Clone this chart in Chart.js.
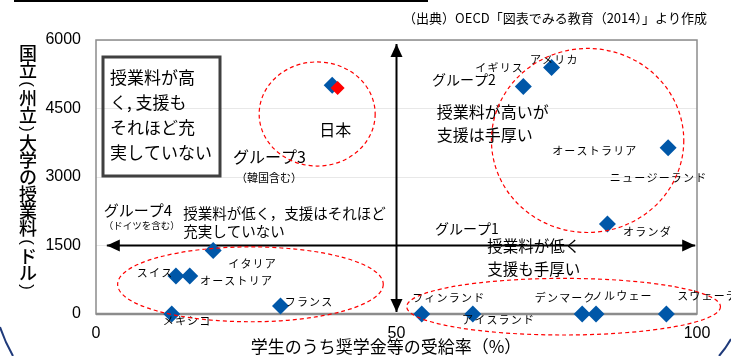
<!DOCTYPE html>
<html lang="ja">
<head>
<meta charset="utf-8">
<script src="https://cdn.jsdelivr.net/npm/chart.js@4/dist/chart.umd.min.js"></script>
<style>
  html, body { margin: 0; padding: 0; background: #fff; }
  #wrap { width: 731px; height: 356px; position: relative; }
</style>
</head>
<body>
<div id="wrap"><canvas id="chart"></canvas></div>
<script>
// --- data ---
const countries = ['日本', 'アメリカ', 'イギリス', 'オーストラリア', 'オランダ', 'イタリア', 'スイス',
    'オーストリア', 'フランス', 'メキシコ', 'フィンランド', 'アイスランド', 'デンマーク', 'ノルウェー', 'スウェーデン'];
const aidRate = [39.3, 75.8, 71.1, 95.2, 85.1, 19.5, 13.3, 15.6, 30.7, 12.6, 54.2, 62.7, 80.9, 83.2, 94.9];
const tuition = [5010, 5400, 4980, 3640, 1970, 1390, 830, 830, 175, 0, 0, 0, 0, 0, 0];
const japanAidRate = [40.2];
const japanTuition = [4950];
const xTickValues = [0, 50, 100];
const yTickValues = [0, 1500, 3000, 4500, 6000];

const JP = '"Noto Sans CJK JP", "Noto Sans", sans-serif';
const NUM = '"Liberation Sans", Arial, sans-serif';

// label placement for each country, in data units (left edge, middle)
const countryLabels = {
    'イギリス': [63.1, 5390], 'アメリカ': [72.2, 5560], 'オーストラリア': [75.9, 3570],
    'ニュージーランド': [85.5, 2980], 'オランダ': [87.7, 1800], 'イタリア': [22.0, 1095],
    'スイス': [6.8, 900], 'オーストリア': [17.3, 720], 'フランス': [31.4, 263],
    'メキシコ': [11.1, -150], 'フィンランド': [52.6, 350], 'アイスランド': [60.9, -130],
    'デンマーク': [73.0, 350], 'ノルウェー': [82.5, 395], 'スウェーデン': [96.7, 395]
};

// group notes: [text, x, y, size, align]
const notes = [
    ['グループ2', 55.9, 5125, 14, 'left'],
    ['授業料が高いが', 56.7, 4420, 16, 'left'],
    ['支援は手厚い', 56.7, 3920, 16, 'left'],
    ['日本', 39.8, 4030, 16, 'center'],
    ['グループ3', 22.8, 3440, 16, 'left'],
    ['（韓国含む）', 23.3, 2980, 11, 'left'],
    ['グループ4', 1.3, 2260, 15, 'left'],
    ['（ドイツを含む）', 1.3, 1930, 9.5, 'left'],
    ['授業料が低く，支援はそれほど', 14.5, 2210, 14.5, 'left'],
    ['充実していない', 14.5, 1800, 14.5, 'left'],
    ['グループ1', 56.4, 1860, 14, 'left'],
    ['授業料が低く', 65.1, 1490, 15.5, 'left'],
    ['支援も手厚い', 65.1, 985, 15.5, 'left']
];

// dashed group ellipses: [cx, cy, rx (x units), ry (y units)]
const groupRings = [
    [36.8, 4380, 9.65, 1140],
    [81.8, 3800, 16.0, 2015],
    [25.7, 650, 22.1, 820],
    [77.8, 160, 26.1, 620]
];

function arrowHead(ctx, x1, y1, x2, y2) {
    const ang = Math.atan2(y2 - y1, x2 - x1);
    const len = 13, w = 6;
    ctx.beginPath();
    ctx.moveTo(x2, y2);
    ctx.lineTo(x2 - len * Math.cos(ang) + w * Math.sin(ang), y2 - len * Math.sin(ang) - w * Math.cos(ang));
    ctx.lineTo(x2 - len * Math.cos(ang) - w * Math.sin(ang), y2 - len * Math.sin(ang) + w * Math.cos(ang));
    ctx.closePath();
    ctx.fill();
}

function doubleArrow(ctx, x1, y1, x2, y2) {
    ctx.beginPath();
    ctx.moveTo(x1, y1);
    ctx.lineTo(x2, y2);
    ctx.stroke();
    arrowHead(ctx, x1, y1, x2, y2);
    arrowHead(ctx, x2, y2, x1, y1);
}

const overlay = {
    id: 'overlay',
    beforeDatasetsDraw(chart) {
        const { ctx, chartArea: a, scales: { x, y } } = chart;
        ctx.save();
        // plot frame
        ctx.strokeStyle = '#8c8c8c';
        ctx.lineWidth = 1.5;
        ctx.strokeRect(a.left, a.top, a.right - a.left, a.bottom - a.top);
        ctx.lineWidth = 2.5;
        ctx.beginPath();
        ctx.moveTo(a.left, a.bottom);
        ctx.lineTo(a.right, a.bottom);
        ctx.stroke();

        // quadrant arrows
        ctx.strokeStyle = '#000';
        ctx.fillStyle = '#000';
        ctx.lineWidth = 2;
        doubleArrow(ctx, x.getPixelForValue(50), y.getPixelForValue(44),
            x.getPixelForValue(50), y.getPixelForValue(5912));
        doubleArrow(ctx, x.getPixelForValue(1.8), y.getPixelForValue(1500),
            x.getPixelForValue(99.7), y.getPixelForValue(1500));
        ctx.restore();
    },
    afterDraw(chart) {
        const { ctx, chartArea: a, scales: { x, y } } = chart;
        ctx.save();

        // slide remnants
        ctx.strokeStyle = '#000';
        ctx.lineWidth = 2;
        ctx.beginPath();
        ctx.moveTo(14, 1); ctx.lineTo(428, 1);
        ctx.stroke();
        ctx.strokeStyle = '#1f3a7a';
        ctx.lineWidth = 2;
        ctx.beginPath();
        ctx.moveTo(0, 327); ctx.quadraticCurveTo(5, 342, 13, 356);
        ctx.stroke();
        ctx.beginPath();
        ctx.moveTo(731, 339); ctx.quadraticCurveTo(726, 348, 719, 356);
        ctx.stroke();

        // source
        ctx.fillStyle = '#000';
        ctx.font = `13px ${JP}`;
        ctx.textAlign = 'right';
        ctx.textBaseline = 'middle';
        ctx.fillText('（出典）OECD「図表でみる教育（2014）」より作成', 707, 18);

        // y title, upright vertical text; brackets turned a quarter
        const yTitle = ['国', '立', '(', '州', '立', ')', '大', '学', 'の', '授', '業', '料', '(', 'ド', 'ル', ')'];
        ctx.textAlign = 'center';
        let ty = 53;
        yTitle.forEach((ch, i) => {
            const paren = ch === '(' || ch === ')';
            if (paren) {
                ctx.save();
                ctx.translate(28, ty);
                ctx.rotate(Math.PI / 2);
                ctx.font = `17px ${NUM}`;
                ctx.fillText(ch, 0, 1);
                ctx.restore();
            } else {
                ctx.font = `500 18px ${JP}`;
                ctx.fillText(ch, 28, ty);
            }
            const nextParen = yTitle[i + 1] === '(' || yTitle[i + 1] === ')';
            ty += (paren || nextParen) ? 14 : 17;
        });

        // x title
        ctx.font = `17px ${JP}`;
        ctx.fillText('学生のうち奨学金等の受給率（%）', 386, 347);

        // boxed note
        ctx.strokeStyle = '#404040';
        ctx.lineWidth = 3;
        ctx.strokeRect(103, 57, 117, 119);
        ctx.font = `17px ${JP}`;
        ctx.textAlign = 'left';
        ['授業料が高', 'く, 支援も', 'それほど充', '実していない'].forEach((t, i) => {
            ctx.fillText(t, 110, 78 + i * 25);
        });

        // group notes
        notes.forEach(([t, vx, vy, sz, al]) => {
            ctx.font = `${sz}px ${JP}`;
            ctx.textAlign = al;
            ctx.fillText(t, x.getPixelForValue(vx), y.getPixelForValue(vy));
        });

        // country labels
        ctx.font = `11px ${JP}`;
        ctx.textAlign = 'left';
        ctx.letterSpacing = '1.2px';
        Object.entries(countryLabels).forEach(([name, [vx, vy]]) => {
            ctx.fillText(name, x.getPixelForValue(vx), y.getPixelForValue(vy));
        });
        ctx.letterSpacing = '0px';

        // dashed rings
        ctx.strokeStyle = '#ff0000';
        ctx.lineWidth = 1.2;
        ctx.setLineDash([4, 3]);
        const xs = x.getPixelForValue(1) - x.getPixelForValue(0);
        const ys = y.getPixelForValue(0) - y.getPixelForValue(1);
        groupRings.forEach(([cx, cy, rx, ry]) => {
            ctx.beginPath();
            ctx.ellipse(x.getPixelForValue(cx), y.getPixelForValue(cy), rx * xs, ry * ys, 0, 0, Math.PI * 2);
            ctx.stroke();
        });
        ctx.restore();
    }
};

new Chart(document.getElementById('chart'), {
    type: 'scatter',
    data: {
        labels: countries,
        datasets: [
            {
                label: '国立大学の授業料',
                data: aidRate.map((v, i) => ({ x: v, y: tuition[i] })),
                pointStyle: 'rectRot',
                pointRadius: 8.5,
                backgroundColor: '#0057a8',
                borderColor: '#0057a8',
                borderWidth: 0,
                clip: false,
                order: 2
            },
            {
                label: '日本',
                data: japanAidRate.map((v, i) => ({ x: v, y: japanTuition[i] })),
                pointStyle: 'rectRot',
                pointRadius: 7,
                backgroundColor: '#ff0000',
                borderWidth: 0,
                clip: false,
                order: 1
            }
        ]
    },
    options: {
        responsive: true,
        maintainAspectRatio: false,
        devicePixelRatio: 1,
        animation: false,
        layout: { padding: { top: 40, right: 34, left: 0, bottom: 0 } },
        plugins: {
            legend: { display: false },
            tooltip: { enabled: false }
        },
        scales: {
            x: {
                type: 'linear',
                min: 0,
                max: 100,
                afterBuildTicks: s => { s.ticks = xTickValues.map(v => ({ value: v })); },
                afterFit: s => { s.height = 42; },
                ticks: { color: '#000', font: { family: NUM, size: 16 }, padding: 10, maxRotation: 0,
                    callback: v => String(v) },
                grid: { display: false, drawTicks: false },
                border: { display: false }
            },
            y: {
                min: 0,
                max: 6000,
                afterBuildTicks: s => { s.ticks = yTickValues.map(v => ({ value: v })); },
                afterFit: s => { s.width = 96; },
                ticks: { color: '#000', font: { family: NUM, size: 16 }, padding: 15,
                    callback: v => String(v) },
                grid: { color: '#e8e8e8', drawTicks: false },
                border: { display: false }
            }
        }
    },
    plugins: [overlay]
});
</script>
</body>
</html>
